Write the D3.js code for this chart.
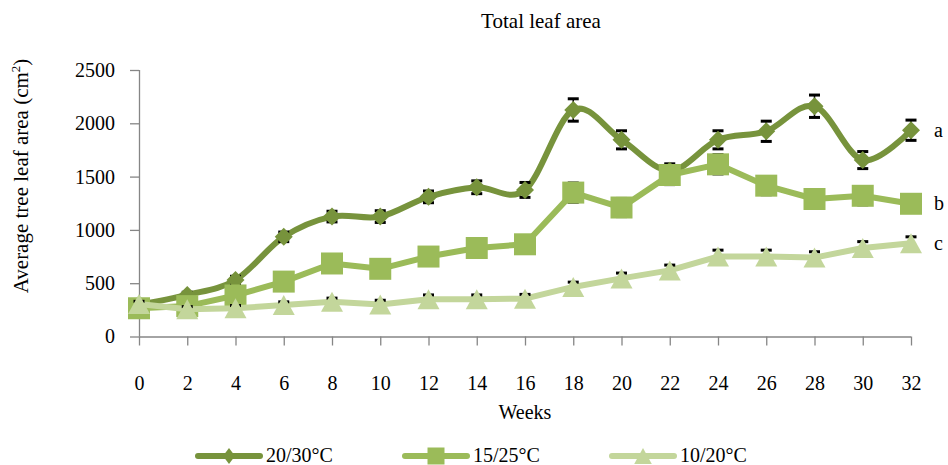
<!DOCTYPE html>
<html>
<head>
<meta charset="utf-8">
<script src="https://cdn.jsdelivr.net/npm/d3@7"></script>
<style>
body { margin: 0; background: #fff; }
text { font-family: "Liberation Serif", "Times New Roman", serif; fill: #000; }
</style>
</head>
<body>
<svg id="chart"></svg>
<script>
// weeks on the x axis
var weeks = [0, 2, 4, 6, 8, 10, 12, 14, 16, 18, 20, 22, 24, 26, 28, 30, 32];
var yTicks = [0, 500, 1000, 1500, 2000, 2500];

// 20/30 C
var warmValues = [300, 390, 530, 935, 1125, 1125, 1310, 1400, 1375, 2125, 1845, 1555, 1845, 1925, 2160, 1655, 1935];
var warmErrors = [20, 25, 35, 45, 50, 55, 55, 60, 70, 105, 85, 65, 85, 95, 105, 80, 95];
// 15/25 C
var midValues = [265, 285, 385, 515, 685, 635, 750, 830, 865, 1350, 1210, 1515, 1615, 1415, 1290, 1320, 1245];
var midErrors = [30, 30, 40, 50, 60, 60, 65, 70, 70, 90, 85, 90, 90, 85, 80, 85, 80];
// 10/20 C
var coolValues = [305, 255, 265, 295, 325, 300, 350, 350, 355, 465, 545, 620, 750, 750, 740, 830, 875];
var coolErrors = [25, 25, 25, 30, 35, 40, 40, 40, 40, 45, 50, 50, 60, 60, 55, 60, 60];

var seriesNames = ["20/30°C", "15/25°C", "10/20°C"];
var groupLetters = ["a", "b", "c"];

var svgWidth = 948;
var svgHeight = 465;
var svg = d3.select("svg#chart")
    .attr("width", svgWidth)
    .attr("height", svgHeight);

var x = d3.scalePoint().domain(weeks).range([139, 911]);
var y = d3.scaleLinear().domain([0, 2500]).range([336.5, 70]);

var series = [
    { name: seriesNames[0], letter: groupLetters[0], values: warmValues, errors: warmErrors, color: "#77933c", shape: "diamond", curve: d3.curveCardinal.tension(0) },
    { name: seriesNames[1], letter: groupLetters[1], values: midValues, errors: midErrors, color: "#9bbb59", shape: "square", curve: d3.curveLinear },
    { name: seriesNames[2], letter: groupLetters[2], values: coolValues, errors: coolErrors, color: "#c3d69b", shape: "triangle", curve: d3.curveLinear }
];

function shapePath(shape, s) {
    if (shape === "diamond") return "M0," + (-s) + "L" + s + ",0L0," + s + "L" + (-s) + ",0Z";
    if (shape === "square") return "M" + (-s) + "," + (-s) + "h" + (2 * s) + "v" + (2 * s) + "h" + (-2 * s) + "Z";
    return "M0," + (-s) + "L" + (s * 1.1) + "," + s + "L" + (-s * 1.1) + "," + s + "Z";
}
var markerSize = { diamond: 9, square: 11, triangle: 10 };

// title
svg.append("text")
    .attr("x", 541).attr("y", 28)
    .attr("text-anchor", "middle")
    .attr("font-size", 21)
    .text("Total leaf area");

// axes
var yAxis = d3.axisLeft(y).tickValues(yTicks).tickSize(9).tickPadding(15).tickFormat(d3.format("d"));
var gy = svg.append("g").attr("transform", "translate(139,0)").call(yAxis);
var xAxis = d3.axisBottom(x).tickSize(9).tickPadding(30);
var gx = svg.append("g").attr("transform", "translate(0," + y(0) + ")").call(xAxis);
[gx, gy].forEach(function (g) {
    g.attr("font-family", null);
    g.select(".domain").attr("stroke", "#868686").attr("stroke-width", 1.3);
    g.selectAll(".tick line").attr("stroke", "#868686").attr("stroke-width", 1.3);
    g.selectAll(".tick text").attr("font-size", 20).attr("fill", "#000");
});
gy.select(".domain").attr("d", "M0.5," + y(0) + "V" + y(2500));
gx.select(".domain").attr("d", "M139," + 0.5 + "H911");

// axis titles
svg.append("text")
    .attr("x", 525).attr("y", 419)
    .attr("text-anchor", "middle")
    .attr("font-size", 20)
    .text("Weeks");

var ylab = svg.append("text")
    .attr("transform", "translate(28,176) rotate(-90)")
    .attr("text-anchor", "middle")
    .attr("font-size", 21);
ylab.append("tspan").text("Average tree leaf area (cm");
ylab.append("tspan").attr("font-size", 13).attr("dy", -8).text("2");
ylab.append("tspan").attr("dy", 8).text(")");

// series
series.forEach(function (s) {
    var g = svg.append("g").attr("class", "series");
    var line = d3.line()
        .x(function (d, i) { return x(weeks[i]); })
        .y(function (d) { return y(d); })
        .curve(s.curve);
    g.append("path")
        .datum(s.values)
        .attr("d", line)
        .attr("fill", "none")
        .attr("stroke", s.color)
        .attr("stroke-width", 6)
        .attr("stroke-linejoin", "round");

    var eb = g.selectAll("g.err").data(s.values).enter().append("g").attr("class", "err");
    eb.append("line")
        .attr("x1", function (d, i) { return x(weeks[i]); })
        .attr("x2", function (d, i) { return x(weeks[i]); })
        .attr("y1", function (d, i) { return y(d + s.errors[i]); })
        .attr("y2", function (d, i) { return y(d - s.errors[i]); })
        .attr("stroke", "#000").attr("stroke-width", 1.5);
    [1, -1].forEach(function (sign) {
        eb.append("line")
            .attr("x1", function (d, i) { return x(weeks[i]) - 5.5; })
            .attr("x2", function (d, i) { return x(weeks[i]) + 5.5; })
            .attr("y1", function (d, i) { return y(d + sign * s.errors[i]); })
            .attr("y2", function (d, i) { return y(d + sign * s.errors[i]); })
            .attr("stroke", "#000").attr("stroke-width", 3);
    });

    g.selectAll("path.marker").data(s.values).enter().append("path")
        .attr("class", "marker")
        .attr("d", shapePath(s.shape, markerSize[s.shape]))
        .attr("transform", function (d, i) { return "translate(" + x(weeks[i]) + "," + y(d) + ")"; })
        .attr("fill", s.color);

    // group letter at the end of the line
    svg.append("text")
        .attr("x", x(weeks[weeks.length - 1]) + 23)
        .attr("y", y(s.values[s.values.length - 1]))
        .attr("dy", "0.32em")
        .attr("font-size", 20)
        .text(s.letter);
});

// legend
var legend = svg.append("g").attr("class", "legend");
var legendItem = legend.selectAll("g").data(series).enter().append("g")
    .attr("transform", function (d, i) { return "translate(" + (198 + i * 207) + ",456)"; });
legendItem.append("line")
    .attr("x1", 0).attr("x2", 62)
    .attr("stroke", function (d) { return d.color; })
    .attr("stroke-width", 6)
    .attr("stroke-linecap", "round");
legendItem.append("path")
    .attr("d", function (d) {
        if (d.shape === "diamond") return "M0,-8L6,0L0,8L-6,0Z";
        return shapePath(d.shape, d.shape === "square" ? 8.5 : 8);
    })
    .attr("transform", "translate(31,0)")
    .attr("fill", function (d) { return d.color; });
legendItem.append("text")
    .attr("x", 68).attr("y", 0)
    .attr("dy", "0.32em")
    .attr("font-size", 20)
    .text(function (d) { return d.name; });
</script>
</body>
</html>
